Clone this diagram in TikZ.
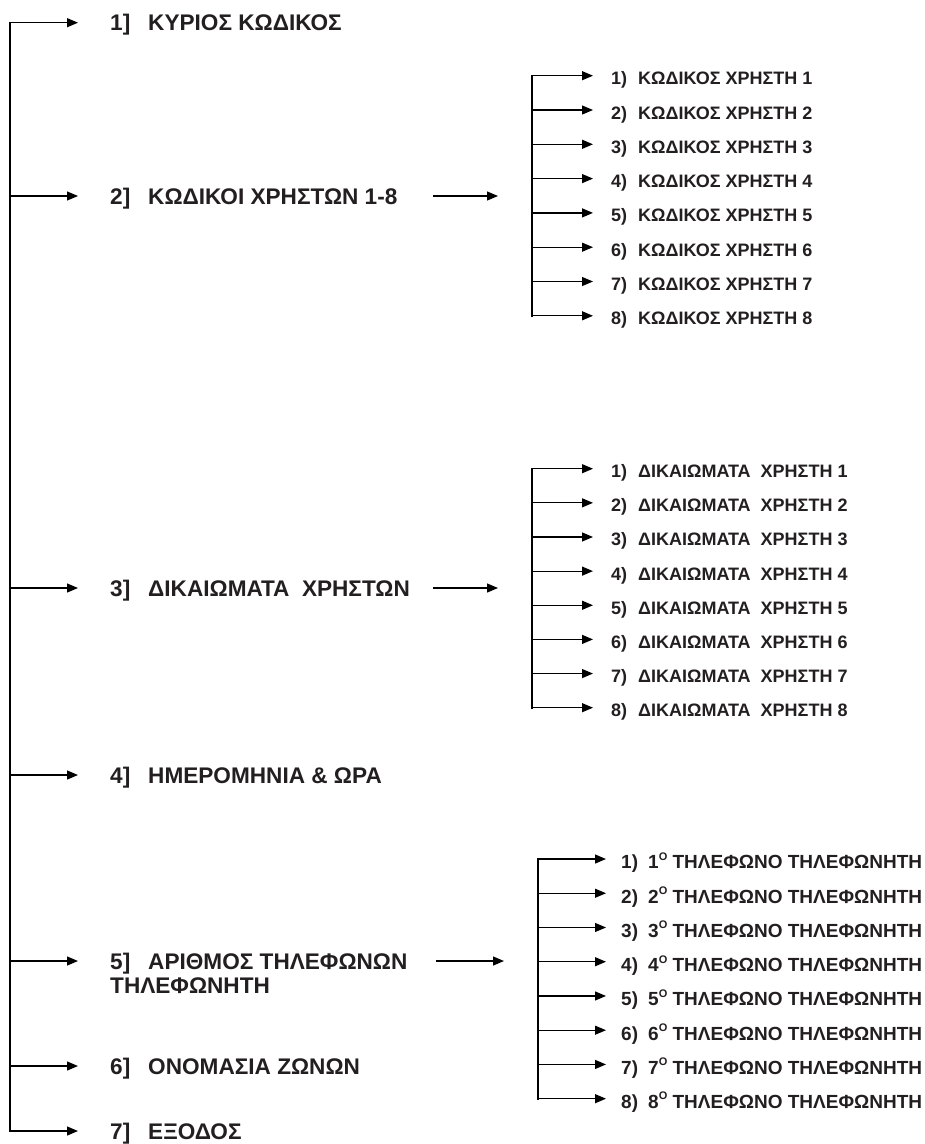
\documentclass[tikz,border=0pt]{standalone}
\usepackage{fontspec}
\setmainfont{Liberation Sans}
\usetikzlibrary{arrows.meta}
\definecolor{ink}{HTML}{231F20}
\newcommand\mnum[1]{\makebox[38pt][l]{#1}}
\newcommand\snum[1]{\makebox[27pt][l]{#1}}
\newcommand\ordo{\raisebox{8.5pt}{\fontsize{11}{11}\selectfont O}}
\begin{document}
\begin{tikzpicture}[x=1pt,y=-1pt,
  conn/.style={line width=1.2pt,-{Triangle[length=11pt,width=9pt]}},
  spine/.style={line width=1.8pt,line cap=rect},
  mainlbl/.style={anchor=west,inner sep=0pt,text height=16.2pt,text depth=0pt,font=\fontsize{22.6}{24}\selectfont\bfseries,text=ink},
  sublbl/.style={anchor=west,inner sep=0pt,text height=18pt,text depth=0pt,font=\fontsize{18}{20}\selectfont\bfseries,text=ink},
  sublblb/.style={sublbl,text height=19.6pt,font=\fontsize{19}{21}\selectfont\bfseries}]
\useasboundingbox (0,0) rectangle (925,1144);

% main spine points
\coordinate (s1) at (10,22.7);
\coordinate (s2) at (10,196);
\coordinate (s3) at (10,588);
\coordinate (s4) at (10,775);
\coordinate (s5) at (10,961);
\coordinate (s6) at (10,1066);
\coordinate (s7) at (10,1131);
\draw[spine] (s1) -- (s7);

% main labels
\node[mainlbl] (m1) at (110,22.7) {\mnum{1]}ΚΥΡΙΟΣ ΚΩΔΙΚΟΣ};
\node[mainlbl] (m2) at (110,196) {\mnum{2]}ΚΩΔΙΚΟΙ ΧΡΗΣΤΩΝ 1-8};
\node[mainlbl] (m3) at (110,588) {\mnum{3]}ΔΙΚΑΙΩΜΑΤΑ\ \ ΧΡΗΣΤΩΝ};
\node[mainlbl] (m4) at (110,775) {\mnum{4]}ΗΜΕΡΟΜΗΝΙΑ \& ΩΡΑ};
\node[mainlbl] (m5) at (110,961) {\mnum{5]}ΑΡΙΘΜΟΣ ΤΗΛΕΦΩΝΩΝ};
\node[mainlbl,anchor=base west] (m5b) at ([yshift=-24pt]m5.base west) {ΤΗΛΕΦΩΝΗΤΗ};
\node[mainlbl] (m6) at (110,1066) {\mnum{6]}ΟΝΟΜΑΣΙΑ ΖΩΝΩΝ};
\node[mainlbl] (m7) at (110,1131) {\mnum{7]}ΕΞΟΔΟΣ};

\foreach \k in {1,...,7}{
  \draw[conn,shorten >=32pt] (s\k) -- (m\k.west);
}

% middle arrows
\coordinate (a2) at (433,196);  \coordinate (b2) at (498,196);
\coordinate (a3) at (433,588);  \coordinate (b3) at (498,588);
\coordinate (a5) at (436,961);  \coordinate (b5) at (504,961);
\draw[conn] (a2) -- (b2);
\draw[conn] (a3) -- (b3);
\draw[conn] (a5) -- (b5);

% sublist 1
\foreach \i in {1,...,8}{
  \pgfmathsetmacro\yy{75.7+(\i-1)*34.3}
  \coordinate (ka\i) at (532,\yy);
  \node[sublbl] (sa\i) at (611,\yy) {\snum{\i)}ΚΩΔΙΚΟΣ ΧΡΗΣΤΗ \i};
  \draw[conn,shorten >=18pt] (ka\i) -- (sa\i.west);
}
\draw[spine] (ka1) -- (ka8);

% sublist 2
\foreach \i in {1,...,8}{
  \pgfmathsetmacro\yy{468.7+(\i-1)*34.14}
  \coordinate (kb\i) at (532,\yy);
  \node[sublbl] (sb\i) at (611,\yy) {\snum{\i)}ΔΙΚΑΙΩΜΑΤΑ\ \ ΧΡΗΣΤΗ \i};
  \draw[conn,shorten >=18pt] (kb\i) -- (sb\i.west);
}
\draw[spine] (kb1) -- (kb8);

% sublist 3
\foreach \i in {1,...,8}{
  \pgfmathsetmacro\yy{859+(\i-1)*34.24}
  \coordinate (kc\i) at (538,\yy);
  \node[sublblb] (sc\i) at (621,\yy) {\snum{\i)}\i\ordo\ ΤΗΛΕΦΩΝΟ ΤΗΛΕΦΩΝΗΤΗ};
  \draw[conn,shorten >=15pt] (kc\i) -- (sc\i.west);
}
\draw[spine] (kc1) -- (kc8);
\end{tikzpicture}
\end{document}
